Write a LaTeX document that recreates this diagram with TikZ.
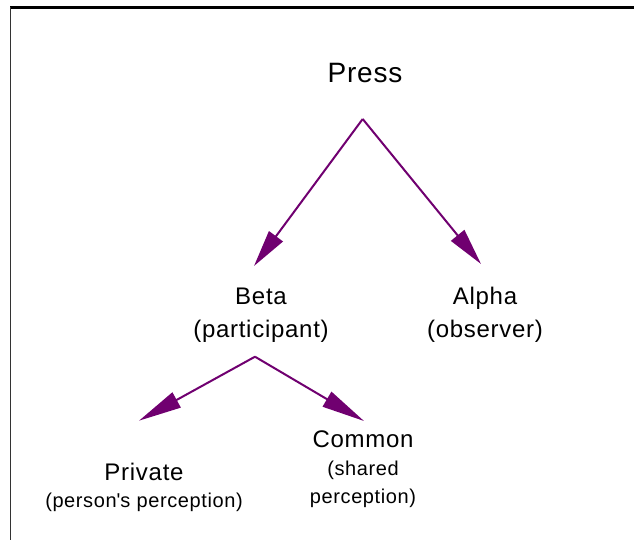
\documentclass[tikz,border=0pt]{standalone}
\usepackage{fontspec}
\setmainfont{Liberation Sans}[LetterSpace=3]
\usetikzlibrary{arrows.meta}
\definecolor{linkpurple}{RGB}{112,0,112}

\begin{document}
\begin{tikzpicture}[x=1pt,y=-1pt,
		link/.style={line width=2pt,draw=linkpurple,-{Triangle[length=#1,width=17pt,fill=linkpurple]}},
		link/.default=37pt,
		label/.style={anchor=base,align=center,inner sep=0pt}]
		\useasboundingbox (0,0) rectangle (634,540);
		\draw[line width=3pt] (10,8) -- (634,8);
		\draw[line width=1.5pt,black!80] (10.7,7) -- (10.7,540);
		
		% base anchor sits on the last line
		\node[label,font=\fontsize{28}{32}\selectfont](press)at(365,83) {Press};
		\node[label,font=\fontsize{24}{33}\selectfont](beta)at(261,337) {Beta\\(participant)};
		\node[label,font=\fontsize{24}{33}\selectfont](alpha)at(485,337) {Alpha\\(observer)};
		\node[label,font=\fontsize{24}{27}\selectfont](private)at(144,507) {Private\\{\fontsize{20}{27}\selectfont(person\textquotesingle s perception)}};
		\node[label,font=\fontsize{24}{28}\selectfont](common)at(363,503) {Common\\{\fontsize{20}{27}\selectfont(shared}\\{\fontsize{20}{27}\selectfont perception)}};
		
		\coordinate (p0) at (362.7,119);
		\coordinate (b0) at (255,356.7);
		\coordinate (beta tip) at (254,266);
		\coordinate (alpha tip) at (481,264);
		\coordinate (private tip) at (139,420.7);
		\coordinate (common tip) at (364,421);
		
		\draw[link](p0) -- (beta tip);
		\draw[link](p0) -- (alpha tip);
		\draw[link=43pt](b0) -- (private tip);
		\draw[link=43pt](b0) -- (common tip);
	\end{tikzpicture}
\end{document}
